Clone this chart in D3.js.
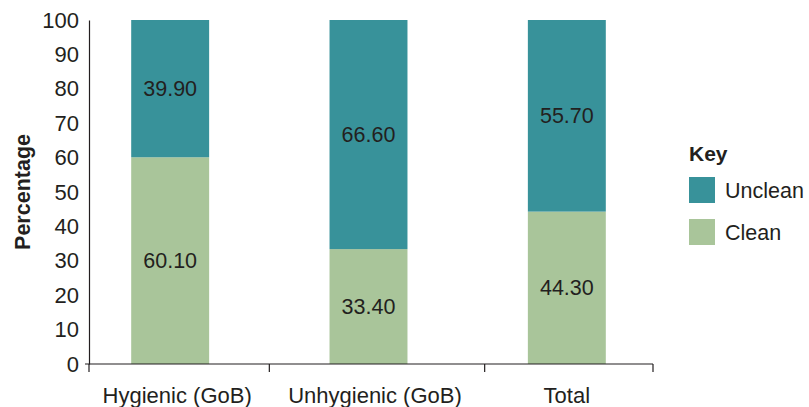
<!DOCTYPE html>
<html>
<head>
<meta charset="utf-8">
<script src="https://cdn.jsdelivr.net/npm/d3@7"></script>
<style>
  html, body { margin: 0; padding: 0; background: #fff; }
  text { font-family: "Liberation Sans", Arial, Helvetica, sans-serif; }
</style>
</head>
<body>
<svg id="chart" width="809" height="407"></svg>
<script>
// Data
const categories = ["Hygienic (GoB)", "Unhygienic (GoB)", "Total"];
const cleanValues = [60.10, 33.40, 44.30];
const uncleanValues = [39.90, 66.60, 55.70];
const seriesNames = ["Unclean", "Clean"];
const yTicks = [0, 10, 20, 30, 40, 50, 60, 70, 80, 90, 100];

const colors = { Unclean: "#38929a", Clean: "#a9c59a" };
const textColor = "#231f20";
const fontSize = 21.5;

const svg = d3.select("#chart");
const axisLeft = 89, axisRight = 653, plotTop = 20, plotBottom = 364;

const y = d3.scaleLinear().domain([0, 100]).range([plotBottom, plotTop]);
const x = d3.scaleBand().domain(categories).range([71, 666])
  .paddingInner(0.607).paddingOuter(0.3035);

const rows = categories.map((c, i) => ({ cat: c, Clean: cleanValues[i], Unclean: uncleanValues[i] }));
const stack = d3.stack().keys(["Clean", "Unclean"])(rows);

// Bars with segment value labels
stack.forEach(layer => {
  svg.append("g").selectAll("rect").data(layer).join("rect")
    .attr("x", d => x(d.data.cat))
    .attr("width", x.bandwidth())
    .attr("y", d => y(d[1]))
    .attr("height", d => y(d[0]) - y(d[1]))
    .attr("fill", colors[layer.key]);
  svg.append("g").selectAll("text").data(layer).join("text")
    .attr("x", d => x(d.data.cat) + x.bandwidth() / 2)
    .attr("y", d => y((d[0] + d[1]) / 2))
    .attr("dy", "0.35em")
    .attr("text-anchor", "middle")
    .attr("font-size", fontSize)
    .attr("fill", textColor)
    .text(d => (d[1] - d[0]).toFixed(2));
});

// Y axis
const yAxis = svg.append("g").attr("transform", `translate(${axisLeft},0)`)
  .call(d3.axisLeft(y).tickValues(yTicks).tickSize(0).tickPadding(10));
yAxis.select(".domain").attr("stroke", "#231f20").attr("stroke-width", 1.2);
yAxis.selectAll("text").attr("font-size", 22).attr("fill", textColor)
  .attr("font-family", "Liberation Sans, Arial, sans-serif");

// X axis line with category separators
svg.append("line")
  .attr("x1", axisLeft - 4).attr("x2", axisRight)
  .attr("y1", y(0)).attr("y2", y(0))
  .attr("stroke", "#231f20").attr("stroke-width", 1.2);
const cx = categories.map(c => x(c) + x.bandwidth() / 2);
const breaks = [axisLeft];
for (let i = 0; i < cx.length - 1; i++) breaks.push((cx[i] + cx[i + 1]) / 2 + (i === 1 ? 17 : 0));
breaks.push(axisRight);
svg.append("g").selectAll("line").data(breaks).join("line")
  .attr("x1", d => d).attr("x2", d => d)
  .attr("y1", y(0)).attr("y2", y(0) + 8)
  .attr("stroke", "#231f20").attr("stroke-width", 1.2);

// Category labels, centred within their axis segments
svg.append("g").selectAll("text").data(categories).join("text")
  .attr("x", (d, i) => (breaks[i] + breaks[i + 1]) / 2 - 2)
  .attr("y", 403)
  .attr("text-anchor", "middle")
  .attr("font-size", 22)
  .attr("fill", textColor)
  .text(d => d);

// Y axis title
svg.append("text")
  .attr("transform", `translate(30,${(plotTop + plotBottom) / 2}) rotate(-90)`)
  .attr("text-anchor", "middle")
  .attr("font-size", 21.5)
  .attr("font-weight", "bold")
  .attr("fill", textColor)
  .text("Percentage");

// Legend
const legend = svg.append("g").attr("transform", "translate(689,0)");
legend.append("text").attr("x", 0).attr("y", 161)
  .attr("font-size", 21).attr("font-weight", "bold").attr("fill", textColor).text("Key");
seriesNames.forEach((s, i) => {
  const yy = 177 + i * 42;
  legend.append("rect").attr("x", 0).attr("y", yy).attr("width", 26).attr("height", 26)
    .attr("fill", colors[s]);
  legend.append("text").attr("x", 36).attr("y", yy + 13).attr("dy", "0.35em")
    .attr("font-size", fontSize).attr("fill", textColor).text(s);
});
</script>
</body>
</html>
